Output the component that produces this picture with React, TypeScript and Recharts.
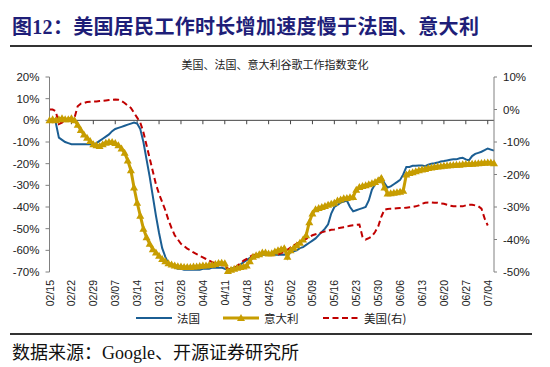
import { LineChart, Line, XAxis, YAxis, ReferenceLine } from 'recharts';

// 2020/02/15 - 2020/07/06, daily
const startDate = new Date(2020, 1, 15);
const dayCount = 143;
const dates: string[] = Array.from({ length: dayCount }, (_, i) => {
  const d = new Date(startDate.getTime() + i * 86400000);
  return `${String(d.getMonth() + 1).padStart(2, '0')}/${String(d.getDate()).padStart(2, '0')}`;
});

const weekTicks = [
  '02/15', '02/22', '02/29', '03/07', '03/14', '03/21', '03/28', '04/04', '04/11', '04/18',
  '04/25', '05/02', '05/09', '05/16', '05/23', '05/30', '06/06', '06/13', '06/20', '06/27', '07/04',
];

const leftTicks = [20, 10, 0, -10, -20, -30, -40, -50, -60, -70];
const rightTicks = [10, 0, -10, -20, -30, -40, -50];

// 法国 (左轴, %)
const france = [
  0, 0, -1, -8, -9, -10, -10.5, -11, -11, -11, -11, -11, -11, -11, -11, -10.5, -9.5, -8.5, -7.5, -6.5,
  -5, -4, -3.5, -3, -2.5, -2, -1.5, -1, -1.5, -4, -10, -18, -26, -35, -44, -52, -59, -63, -66, -67,
  -68, -68.5, -68.5, -69, -69, -69, -69, -69, -69, -68.5, -68.5, -68.5, -68, -68, -68, -68, -68.5, -69, -68.5, -68,
  -67.5, -66.5, -65.5, -64.5, -63.5, -63, -62.5, -62, -62, -62, -62, -62, -62, -62, -62, -62, -61.5, -61, -60.5, -60,
  -59, -58.5, -57.5, -56.5, -55.5, -54.5, -53, -51.5, -50, -48, -43, -40, -39, -38, -37.5, -37, -40, -42, -41.5, -41,
  -40.5, -40, -37, -32, -29.5, -27.5, -26, -29, -31, -30.5, -29.5, -28.5, -27.5, -25, -21.5, -21.5, -21, -21, -20.8, -20.8,
  -21.2, -20.5, -20, -19.8, -19.5, -19, -18.8, -18.5, -18.2, -18, -18, -17.5, -17.3, -18, -18.5, -16.5, -15.5, -15, -14.5, -13.8,
  -13, -13.5, -14,
];

// 意大利 (左轴, %)
const italy = [
  0, 0.5, 0, 0.5, 1, 0.5, 0.5, 1, 0, -2, -4.5, -6.5, -8, -9.5, -11, -11.5, -11.8, -11, -10.3, -10,
  -10, -10.5, -11.5, -13, -15, -18.5, -23, -31, -38, -44, -50, -54, -57, -59.5, -61, -62.5, -64, -65, -66, -66.5,
  -67, -67.3, -67.5, -67.7, -67.7, -67.7, -67.5, -67.5, -67.2, -67, -67, -66.8, -66.6, -66.3, -65.8, -65.7, -66, -69.5, -69, -68.5,
  -68, -67.7, -67.5, -67, -65, -63, -62.3, -61.8, -61, -61, -61.5, -61.3, -60.5, -60, -59.5, -59, -63, -60, -58.8, -57.7,
  -56.5, -55, -53, -47, -43, -41, -40.5, -40, -39.5, -39, -38.5, -38, -37, -36.5, -36, -35.8, -35.5, -35.4, -32, -30.8,
  -30.3, -30, -29.5, -29, -28.5, -27.7, -26.6, -31, -33.8, -33.6, -33.4, -33.2, -33, -32.5, -25, -24.3, -24, -23.5, -23, -22.7,
  -22.5, -22, -21.8, -21.5, -21.3, -21.2, -21, -20.8, -20.7, -20.6, -20.5, -20.5, -20.3, -20.2, -20.1, -20, -19.9, -19.8, -19.7, -19.6,
  -19.5, -19.5, -19.8,
];

// 美国 (右轴, %)
const usa: (number | null)[] = [
  0, 0, -0.5, -4.5, -4, -3.5, -3, -2.8, -2.5, 1, 1.8, 2, 2.3, 2.4, 2.5, 2.5, 2.6, 2.7, 2.8, 2.9,
  3, 3.1, 3, 2.6, 2, 1.2, 0.5, -1, -2.5, -4, -7, -11, -15, -19, -23, -26, -28.5, -31, -34, -36.5,
  -38.7, -40, -41.3, -42, -42.8, -43.3, -44, -44.5, -45, -45.5, -46, -46.5, -47, -47.3, -47.6, -47.9, -48, -49, -49.2, -49,
  -48, -47.4, -46.5, -46, -45.3, -44.8, -44.7, -44.6, -44.5, -44.3, -44.5, -44.8, -44.9, -44.6, -44.2, -43.8, -43.2, -42.5, -41.8, -41.3,
  -40.8, -40.3, -39.8, -39.2, -38.7, -38.4, -38.1, -37.8, -37.5, -37.3, -37, -36.9, -36.6, -36.4, -36.2, -36, -35.8, -35.6, -35.5, -35.4,
  -39.2, -40, -39.6, -39, -37.7, -36, -33, -30.8, -30.6, -30.5, -30.5, -30.4, -30.3, -30.3, -30.2, -30.1, -30, -29.8, -29.5, -29,
  -28.7, -28.6, -28.6, -28.7, -28.7, -28.9, -29, -29.3, -29.6, -29.8, -29.8, -29.8, -29.8, -29.5, -29.3, -29.3, -29.5, -29.8, -30.5, -33.5,
  -35.7, null, null,
];

const chartData = dates.map((date, i) => ({
  date,
  france: france[i],
  italy: italy[i],
  usa: usa[i],
}));

const BLUE = '#1B5E93';
const GOLD = '#C79D00';
const RED = '#C00000';
const AXIS = '#808080';

const DateTick = ({ x, y, payload }: any) => (
  <text
    x={x}
    y={y}
    transform={`rotate(-90 ${x} ${y})`}
    textAnchor="end"
    dominantBaseline="central"
    fontSize={10.5}
    fill="#222"
    fontFamily="'Liberation Sans', Arial, sans-serif"
  >
    {payload.value}
  </text>
);

const TriangleDot = ({ cx, cy, index }: any) => {
  if (cx == null || cy == null) return <g key={index} />;
  return (
    <polygon
      key={index}
      points={`${cx},${cy - 4} ${cx - 4},${cy + 3} ${cx + 4},${cy + 3}`}
      fill={GOLD}
    />
  );
};

const fmt = (v: number) => `${v}%`;

const LegendItem = ({ kind, label, left }: { kind: string; label: string; left: number }) => (
  <div style={{ position: 'absolute', left, top: 0, display: 'flex', alignItems: 'center' }}>
    <svg width={37} height={12}>
      {kind === 'blue' && <line x1={0} y1={6} x2={36} y2={6} stroke={BLUE} strokeWidth={2} />}
      {kind === 'gold' && (
        <g>
          <line x1={0} y1={6} x2={36} y2={6} stroke={GOLD} strokeWidth={3} />
          <polygon points="18,2 14,9 22,9" fill={GOLD} />
        </g>
      )}
      {kind === 'red' && (
        <line x1={0} y1={6} x2={36} y2={6} stroke={RED} strokeWidth={2} strokeDasharray="6 3.5" />
      )}
    </svg>
    <span style={{ marginLeft: 4, fontSize: 11.5, color: '#222', whiteSpace: 'nowrap' }}>{label}</span>
  </div>
);

export default function App() {
  return (
    <div
      style={{
        position: 'absolute',
        left: 0,
        top: 0,
        width: 550,
        height: 367,
        background: '#fff',
        fontFamily: "'Liberation Sans', 'Noto Sans CJK SC', sans-serif",
      }}
    >
      {/* Title */}
      <div
        style={{
          position: 'absolute',
          left: 12,
          top: 11,
          fontSize: 20,
          fontWeight: 'bold',
          color: '#1E1E78',
          whiteSpace: 'nowrap',
          fontFamily: "'Liberation Serif', 'Noto Sans CJK SC', serif",
          letterSpacing: 0.3,
        }}
      >
        图12：美国居民工作时长增加速度慢于法国、意大利
      </div>
      <div style={{ position: 'absolute', left: 10, top: 45, width: 522, height: 2, background: '#333' }} />

      <div
        style={{
          position: 'absolute',
          left: 0,
          width: 550,
          top: 56,
          textAlign: 'center',
          fontSize: 11,
          color: '#222',
          fontFamily: "'Noto Sans CJK SC', sans-serif",
        }}
      >
        美国、法国、意大利谷歌工作指数变化
      </div>

      <div style={{ position: 'absolute', left: 0, top: 0 }}>
        <LineChart width={550} height={367} data={chartData} margin={{ top: 77, right: 6, bottom: 55, left: 4.5 }}>
          <XAxis
            dataKey="date"
            ticks={weekTicks}
            tick={<DateTick />}
            axisLine={false}
            tickLine={false}
            height={40}
            interval={0}
          />
          <YAxis
            yAxisId="left"
            domain={[-70, 20]}
            ticks={leftTicks}
            tickFormatter={fmt}
            width={45}
            stroke={AXIS}
            tickSize={4}
            tickMargin={6}
            tick={{ fontSize: 11.5, fill: '#222', fontFamily: "'Liberation Sans', Arial, sans-serif" }}
          />
          <YAxis
            yAxisId="right"
            orientation="right"
            domain={[-50, 10]}
            ticks={rightTicks}
            tickFormatter={fmt}
            width={50}
            stroke={AXIS}
            tickSize={3}
            tickMargin={6}
            tick={{ fontSize: 11.5, fill: '#222', fontFamily: "'Liberation Sans', Arial, sans-serif" }}
          />
          <ReferenceLine yAxisId="left" y={0} stroke="#444" strokeWidth={1} />
          {weekTicks.map((t) => (
            <ReferenceLine
              key={t}
              yAxisId="left"
              segment={[
                { x: t, y: 0 },
                { x: t, y: -1.8 },
              ]}
              stroke="#444"
            />
          ))}
          <Line
            yAxisId="left"
            type="linear"
            dataKey="france"
            stroke={BLUE}
            strokeWidth={2}
            dot={false}
            isAnimationActive={false}
          />
          <Line
            yAxisId="left"
            type="linear"
            dataKey="italy"
            stroke={GOLD}
            strokeWidth={3}
            dot={<TriangleDot />}
            isAnimationActive={false}
          />
          <Line
            yAxisId="right"
            type="linear"
            dataKey="usa"
            stroke={RED}
            strokeWidth={2}
            strokeDasharray="6 3.5"
            dot={false}
            connectNulls={false}
            isAnimationActive={false}
          />
        </LineChart>
      </div>

      {/* Legend */}
      <div style={{ position: 'absolute', left: 0, top: 310, width: 550, height: 14, fontFamily: "'Noto Sans CJK SC', sans-serif" }}>
        <LegendItem kind="blue" label="法国" left={136} />
        <LegendItem kind="gold" label="意大利" left={223} />
        <LegendItem kind="red" label="美国(右)" left={323} />
      </div>

      <div style={{ position: 'absolute', left: 10, top: 333, width: 522, height: 2, background: '#333' }} />
      <div
        style={{
          position: 'absolute',
          left: 12,
          top: 338,
          fontSize: 18,
          color: '#111',
          whiteSpace: 'nowrap',
          fontFamily: "'Liberation Serif', 'Noto Sans CJK SC', serif",
        }}
      >
        数据来源：Google、开源证券研究所
      </div>
    </div>
  );
}
